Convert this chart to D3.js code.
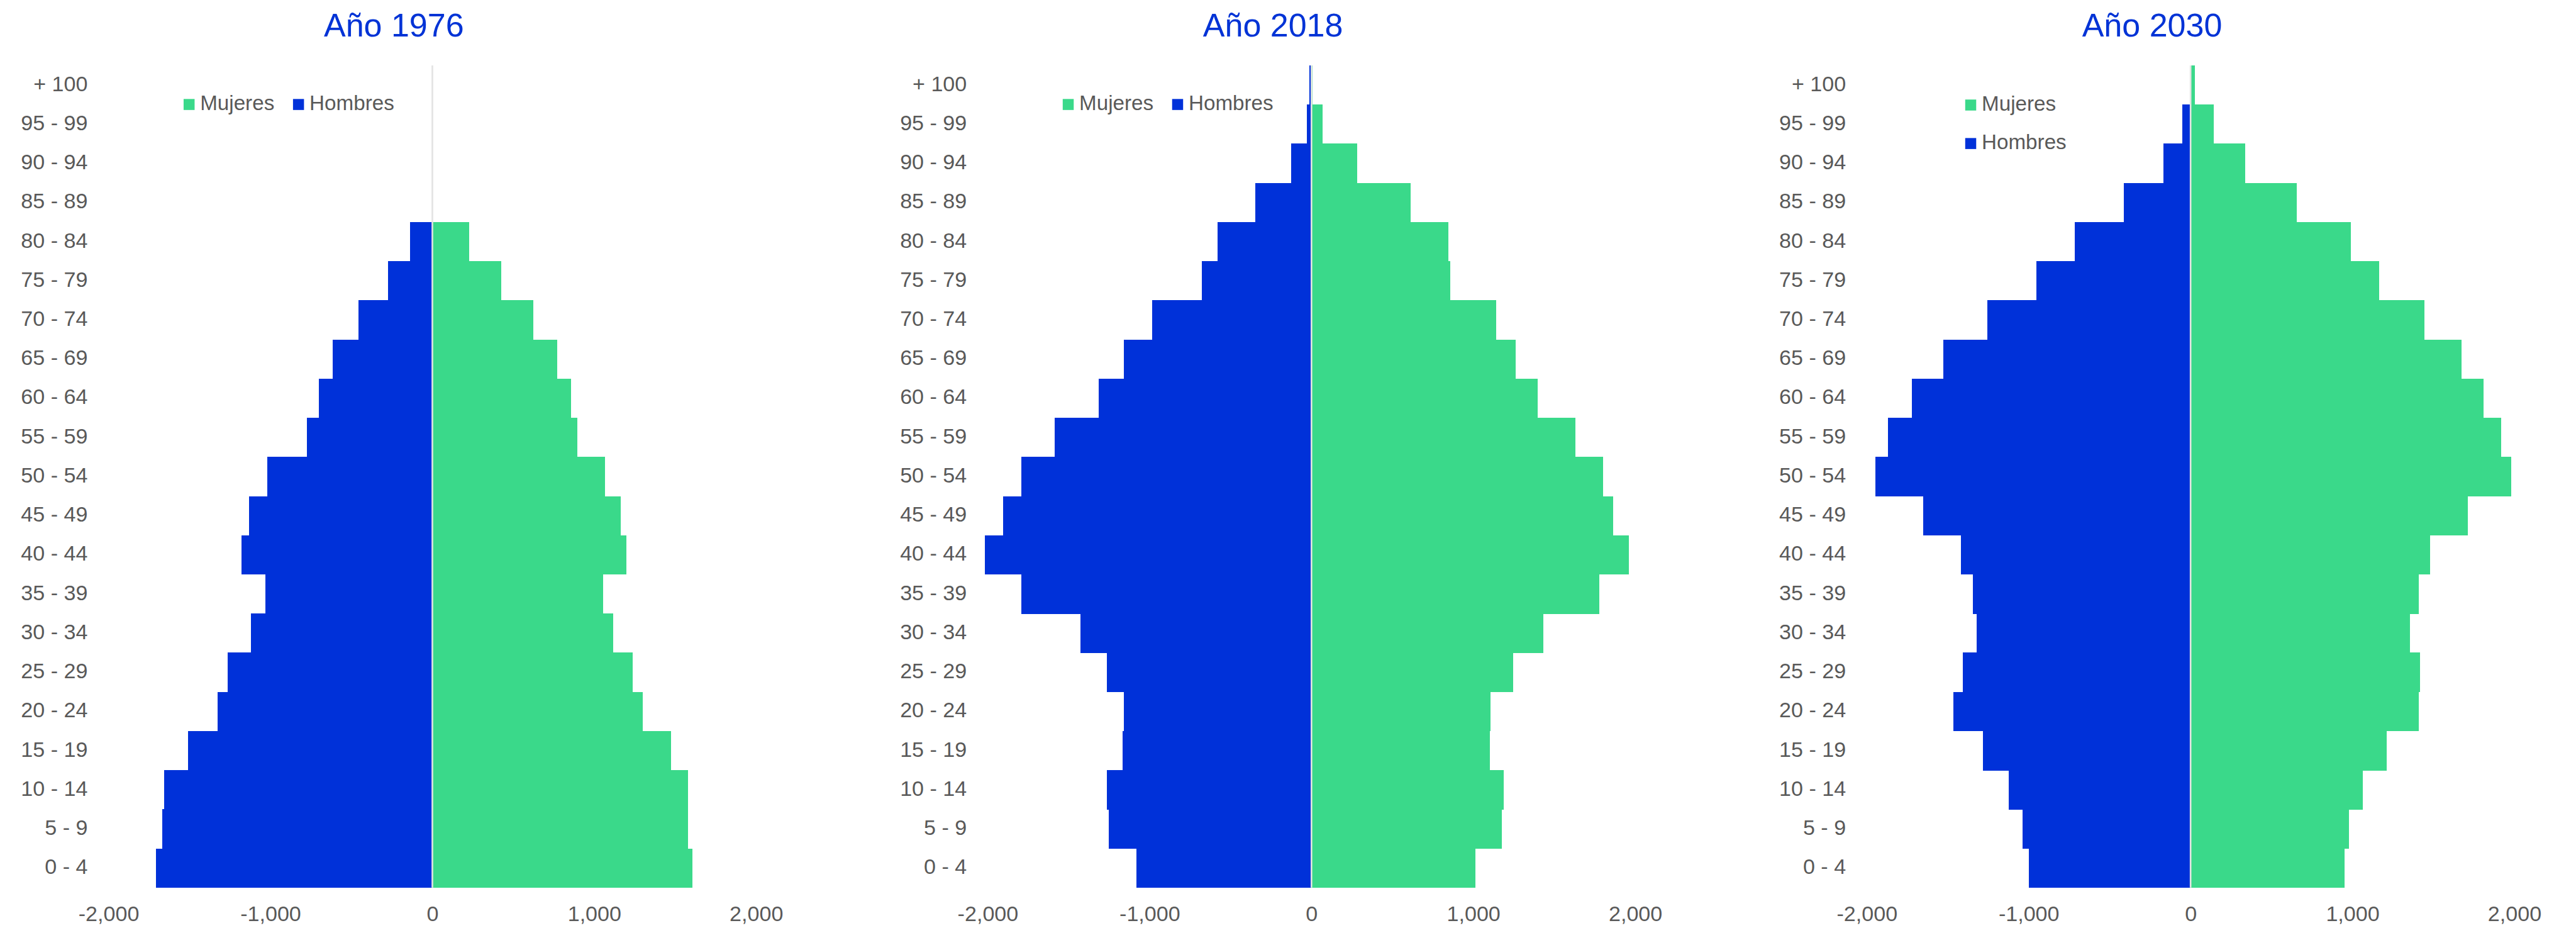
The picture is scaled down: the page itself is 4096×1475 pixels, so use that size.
<!DOCTYPE html>
<html lang="es">
<head>
<meta charset="utf-8">
<title>Pirámides de población</title>
<script src="https://cdn.jsdelivr.net/npm/d3@7"></script>
<style>
  html, body { margin: 0; padding: 0; background: #ffffff; }
  svg { display: block; }
  text { font-family: "Liberation Sans", Arial, Helvetica, sans-serif; }
</style>
</head>
<body>
<svg id="chart" width="4096" height="1475"></svg>
<script>
// Age groups, from oldest (top) to youngest (bottom)
const categories = ["+ 100", "95 - 99", "90 - 94", "85 - 89", "80 - 84", "75 - 79", "70 - 74",
  "65 - 69", "60 - 64", "55 - 59", "50 - 54", "45 - 49", "40 - 44", "35 - 39", "30 - 34",
  "25 - 29", "20 - 24", "15 - 19", "10 - 14", "5 - 9", "0 - 4"];

const years = ["Año 1976", "Año 2018", "Año 2030"];

// Population per age group (same order as categories)
const hombres1976 = [0, 0, 0, 0, 137, 272, 458, 616, 700, 776, 1021, 1131, 1179, 1032, 1120, 1266, 1325, 1511, 1657, 1669, 1706];
const mujeres1976 = [0, 0, 0, 0, 229, 426, 623, 772, 857, 896, 1065, 1164, 1200, 1054, 1116, 1237, 1299, 1474, 1581, 1581, 1605];

const hombres2018 = [14, 28, 127, 346, 580, 679, 983, 1157, 1315, 1588, 1793, 1906, 2016, 1793, 1427, 1264, 1157, 1168, 1264, 1253, 1081];
const mujeres2018 = [8, 70, 282, 611, 845, 856, 1140, 1261, 1396, 1630, 1802, 1864, 1962, 1777, 1433, 1247, 1104, 1101, 1188, 1174, 1014];

const hombres2030 = [6, 53, 166, 411, 715, 952, 1256, 1526, 1723, 1869, 1946, 1650, 1419, 1343, 1320, 1405, 1467, 1284, 1123, 1039, 1000];
const mujeres2030 = [28, 144, 338, 656, 988, 1163, 1444, 1675, 1810, 1920, 1982, 1712, 1481, 1408, 1357, 1419, 1408, 1211, 1064, 977, 952];

const tickValues = [-2000, -1000, 0, 1000, 2000];
const seriesNames = ["Mujeres", "Hombres"];

const panels = [
  { title: years[0], hombres: hombres1976, mujeres: mujeres1976, legend: "row" },
  { title: years[1], hombres: hombres2018, mujeres: mujeres2018, legend: "row" },
  { title: years[2], hombres: hombres2030, mujeres: mujeres2030, legend: "column" }
];

const colorHombres = "#0031d9";
const colorMujeres = "#3ad98a";
const textGray = "#595959";
const titleBlue = "#0033d6";

// Thousands separator with a plain hyphen for negatives
const fmt = d3.formatLocale({ decimal: ".", thousands: ",", grouping: [3], currency: ["", ""], minus: "-" }).format(",");

// Layout units are defined on a 4686 x 1688 canvas and scaled to the window
const S = 4096 / 4686;
const svg = d3.select("#chart");
svg.append("rect").attr("width", 4096).attr("height", 1475).attr("fill", "#ffffff");
const root = svg.append("g").attr("transform", `scale(${S})`);

const panelStep = 1599.2;
const zero0 = 786.5;
const halfWidth = 589;
const plotTop = 119, plotBottom = 1614;
const fontSize = 39;

const y = d3.scaleBand().domain(categories).range([plotTop, plotBottom]).paddingInner(0).paddingOuter(0);

panels.forEach((p, i) => {
  const zx = zero0 + i * panelStep;
  const x = d3.scaleLinear().domain([-2000, 2000]).range([zx - halfWidth, zx + halfWidth]);
  const g = root.append("g");

  // Title
  g.append("text")
    .attr("x", zx - 70).attr("y", 66)
    .attr("text-anchor", "middle")
    .attr("font-size", 59.5)
    .attr("fill", titleBlue)
    .text(p.title);

  // Bars: men to the left, women to the right
  const rows = categories.map((c, k) => ({ cat: c, h: p.hombres[k], m: p.mujeres[k] }));

  g.append("g").attr("shape-rendering", "crispEdges")
    .selectAll("rect").data(rows).join("rect")
    .attr("x", d => x(-d.h))
    .attr("y", d => y(d.cat))
    .attr("width", d => x(0) - x(-d.h))
    .attr("height", y.bandwidth() + 0.5)
    .attr("fill", colorHombres);

  g.append("g").attr("shape-rendering", "crispEdges")
    .selectAll("rect").data(rows).join("rect")
    .attr("x", x(0))
    .attr("y", d => y(d.cat))
    .attr("width", d => x(d.m) - x(0))
    .attr("height", y.bandwidth() + 0.5)
    .attr("fill", colorMujeres);

  // Vertical axis line at zero
  g.append("line")
    .attr("x1", x(0)).attr("x2", x(0))
    .attr("y1", plotTop).attr("y2", plotBottom)
    .attr("stroke", "#e3e3e3").attr("stroke-width", 3);

  // Age-group labels
  const yAxis = d3.axisLeft(y).tickSize(0).tickPadding(0);
  const ya = g.append("g").attr("transform", `translate(${zx - 627},0)`).call(yAxis);
  ya.select(".domain").remove();
  ya.selectAll("text")
    .attr("font-size", fontSize)
    .attr("font-family", '"Liberation Sans", Arial, sans-serif')
    .attr("fill", textGray)
    .attr("dy", "0.28em");

  // Value axis labels
  const xAxis = d3.axisBottom(x).tickValues(tickValues).tickSize(0).tickPadding(0).tickFormat(fmt);
  const xa = g.append("g").attr("transform", `translate(0,${1646})`).call(xAxis);
  xa.select(".domain").remove();
  xa.selectAll("text")
    .attr("font-size", fontSize)
    .attr("font-family", '"Liberation Sans", Arial, sans-serif')
    .attr("fill", textGray)
    .attr("dy", "0.73em");

  // Legend
  const leg = g.append("g");
  const legendItems = [
    { name: seriesNames[0], color: colorMujeres },
    { name: seriesNames[1], color: colorHombres }
  ];
  legendItems.forEach((item, j) => {
    let sx, base;
    if (p.legend === "row") {
      sx = zx + (j === 0 ? -452.5 : -253.5);
      base = 200;
    } else {
      sx = zx - 410;
      base = 201 + j * 70;
    }
    leg.append("rect")
      .attr("x", sx).attr("y", base - 20)
      .attr("width", 20).attr("height", 20)
      .attr("fill", item.color);
    leg.append("text")
      .attr("x", sx + 30).attr("y", base)
      .attr("font-size", fontSize - 1)
      .attr("fill", textGray)
      .text(item.name);
  });
});
</script>
</body>
</html>
